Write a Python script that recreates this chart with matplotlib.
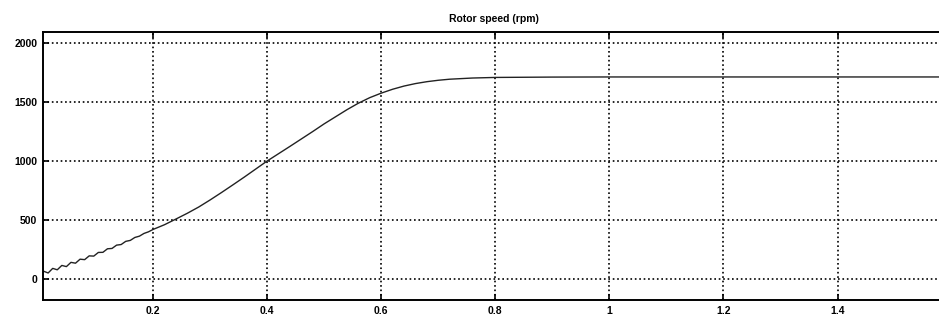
import matplotlib
matplotlib.use('Agg')
import matplotlib.pyplot as plt
from matplotlib.ticker import FormatStrFormatter

# time (s) and rotor speed (rpm)
t = [0.000, 0.008, 0.016, 0.024, 0.032, 0.040, 0.048, 0.056, 0.064, 0.072,
     0.080, 0.088, 0.096, 0.104, 0.112, 0.120, 0.128, 0.136, 0.144, 0.152,
     0.160, 0.168, 0.176, 0.184, 0.192, 0.200, 0.22, 0.24, 0.26, 0.28,
     0.30, 0.32, 0.34, 0.36, 0.38, 0.40, 0.42, 0.44, 0.46, 0.48,
     0.50, 0.52, 0.54, 0.56, 0.58, 0.60, 0.62, 0.64, 0.66, 0.68,
     0.70, 0.72, 0.76, 0.80, 0.90, 1.00, 1.20, 1.40, 1.60]
speed = [15, 66, 51, 90, 78, 115, 105, 141, 134, 168,
         164, 196, 194, 225, 226, 256, 259, 287, 292, 319,
         327, 352, 363, 386, 400, 420, 460, 508, 557, 610,
         670, 733, 798, 864, 932, 1000, 1062, 1124, 1187, 1250,
         1315, 1375, 1435, 1490, 1537, 1575, 1608, 1635, 1656, 1672,
         1684, 1693, 1703, 1708, 1711, 1712, 1712, 1712, 1712]

xticks = [0.2, 0.4, 0.6, 0.8, 1.0, 1.2, 1.4]
yticks = [0, 500, 1000, 1500, 2000]

plt.rcParams['font.family'] = ['Liberation Sans', 'DejaVu Sans']

fig = plt.figure(figsize=(9.39, 3.2), dpi=100)
ax = fig.add_axes([0.0458, 0.061, 0.961, 0.839])
ax.plot(t, speed, color='#222222', lw=1.0)

ax.set_xlim(0.007, 1.589)
ax.set_ylim(-182, 2093)
ax.set_xticks(xticks)
ax.set_yticks(yticks)
ax.xaxis.set_major_formatter(FormatStrFormatter('%g'))
ax.grid(True, color='black', linestyle=':', linewidth=1.2)
ax.tick_params(direction='in', length=4, width=1.2, top=True, right=True,
               labelsize=7.5, pad=4)
for lab in ax.get_xticklabels() + ax.get_yticklabels():
    lab.set_fontweight('bold')
for s in ax.spines.values():
    s.set_linewidth(1.4)
ax.set_title('Rotor speed (rpm)', fontsize=7.5, fontweight='bold', pad=7)

fig.savefig('out.png', dpi=100)
